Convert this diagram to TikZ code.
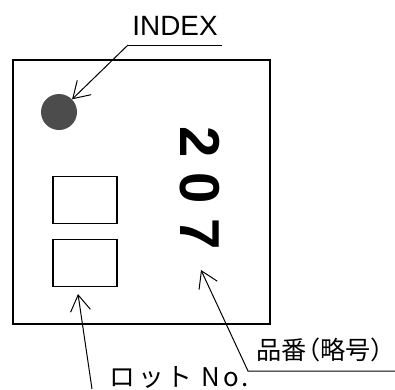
\documentclass[tikz,border=0pt]{standalone}
\usepackage{fontspec}
\setmainfont{Liberation Sans}
\newfontfamily\jpfont[RawFeature=+halt]{Noto Sans CJK JP}
\usetikzlibrary{arrows.meta}

\begin{document}
\begin{tikzpicture}[x=0.03cm,y=-0.03cm,
    leader/.style={line width=0.85pt,-{Straight Barb[length=0.48cm,width=0.6cm]}},
    lotbox/.style={draw,line width=1.6pt,minimum width=1.92cm,minimum height=1.41cm,inner sep=0pt}]
        \useasboundingbox (0,0) rectangle (395,389);
        % chip body
        \node[draw,line width=1.7pt,minimum width=7.71cm,minimum height=7.92cm,inner sep=0pt] (chip) at (141.5,192) {};
        \node[circle,fill=black!70,minimum size=1.08cm,inner sep=0pt] (dot) at (59,112) {};
        \node[lotbox] (lot1) at (85,200) {};
        \node[lotbox] (lot2) at (85,263) {};
        \node[rotate=-90,inner sep=0pt,font=\fontsize{48}{50}\selectfont\bfseries] (num) at (200,188) {2\hspace{0.26em}0\hspace{0.26em}7};
        % labels
        \node[font=\fontsize{23.8}{25}\selectfont] (indexlbl) at (175,26) {INDEX};
        \node[anchor=west,inner sep=0pt,font=\jpfont\fontsize{21.5}{24}\selectfont] (partlbl) at (256,350) {品番\hspace{0.04em}（略号\makebox[0.5em][l]{）}};
        \node[anchor=west,inner sep=0pt,font=\jpfont\addfontfeatures{LetterSpace=12}\fontsize{22}{24}\selectfont] (lotlbl) at (109,377) {ロット No.};
        % leaders
        \coordinate (indexl) at (128,45);
        \coordinate (indexr) at (222,45);
        \coordinate (numtip) at (201,270);
        \coordinate (partbend) at (248,371);
        \coordinate (partend) at (395,371);
        \coordinate (lottip) at (78,294);
        \coordinate (lotfoot) at (92,389);
        \draw[line width=0.85pt] (indexr) -- (indexl);
        \draw[leader] (indexl) -- (dot);
        \draw[leader] (partend) -- (partbend) -- (numtip);
        \draw[leader] (lotfoot) -- (lottip);
    \end{tikzpicture}
\end{document}
